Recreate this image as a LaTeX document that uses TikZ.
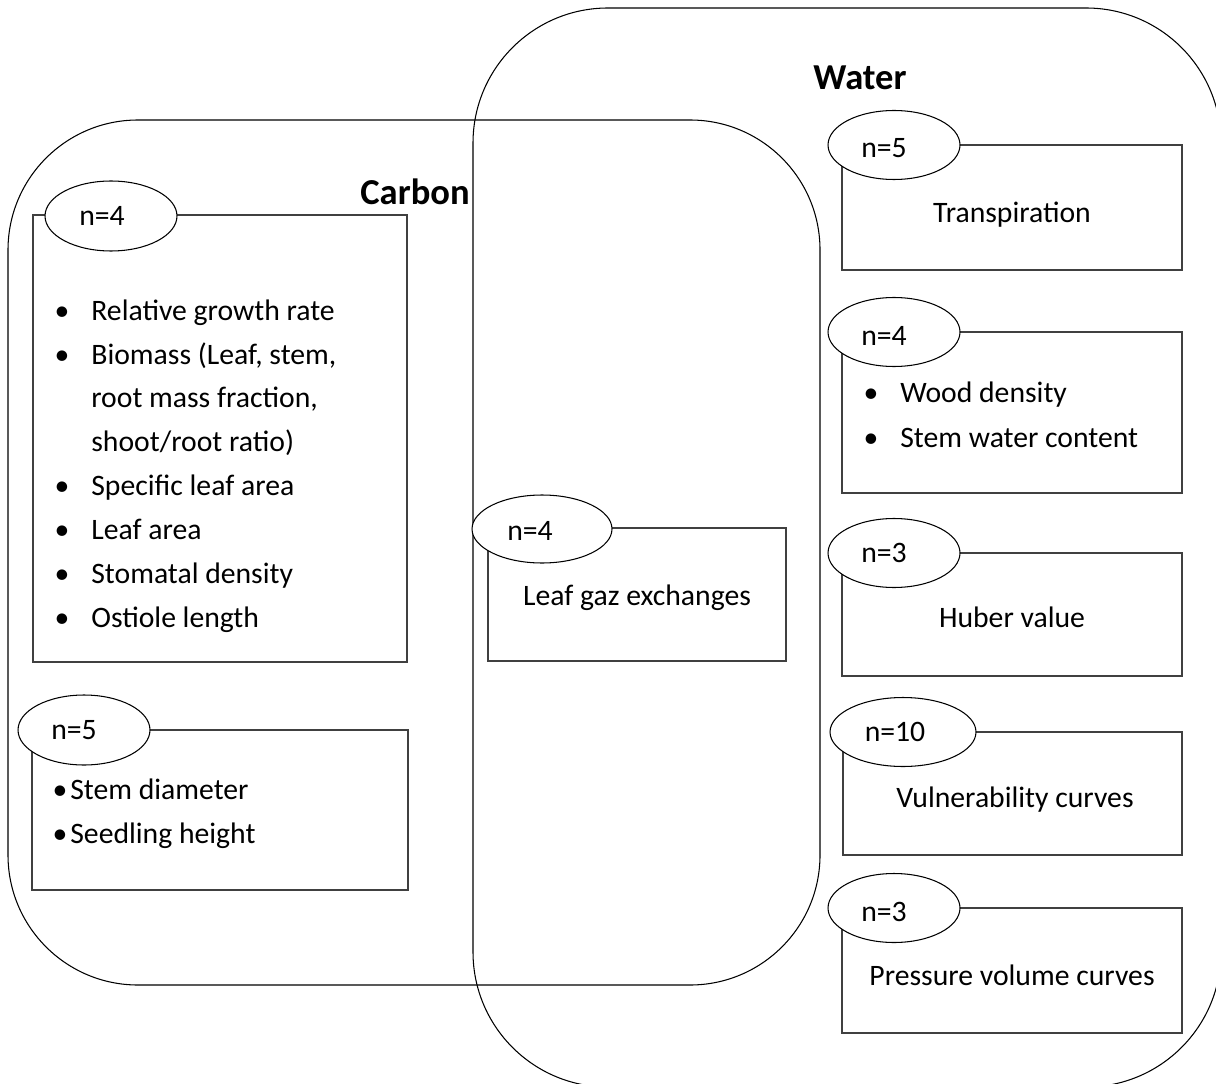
\documentclass[tikz,border=0pt]{standalone}
\usepackage{fontspec}
\setmainfont{Carlito}
\usetikzlibrary{shapes.geometric,fit}
\begin{document}
\begin{tikzpicture}[x=0.02cm,y=-0.02cm,
  container/.style={draw=black, line width=0.6pt, rounded corners=2.6cm, inner sep=0pt},
  itembox/.style={draw=black!75, line width=0.9pt, fill=white, inner sep=0pt},
  countoval/.style={draw=black, line width=0.6pt, fill=white, ellipse, inner sep=0pt, minimum width=2.64cm, minimum height=1.4cm},
  txt/.style={font=\fontsize{16.9}{20}\selectfont, inner sep=0pt, anchor=base},
  ltxt/.style={txt, anchor=base west},
  bul/.style={txt},
  title/.style={font=\fontsize{20.8}{24}\selectfont\bfseries, inner sep=0pt, anchor=base}]
\useasboundingbox (0,0) rectangle (1216,1084);
\begin{scope}
  \clip (0,0) rectangle (1216,1084);
  \node[container, fit={(8,120) (820,985)}] (carbon) {};
  \node[container, rounded corners=2.7cm, fit={(473,8) (1221,1087)}] (water) {};
\end{scope}
% titles
\node[title] (watert) at (860,90) {Water};
\node[title, anchor=base east] (carbont) at (470,205) {Carbon};
% boxes
\node[itembox, fit={(33,215) (407,662)}] (b1) {};
\node[itembox, fit={(32,730) (408,890)}] (b2) {};
\node[itembox, fit={(488,528) (786,661)}] (b3) {};
\node[itembox, fit={(842,145) (1182,270)}] (bt) {};
\node[itembox, fit={(842,332) (1182,493)}] (bw) {};
\node[itembox, fit={(842,553) (1182,676)}] (bh) {};
\node[itembox, fit={(843,732) (1182,855)}] (bv) {};
\node[itembox, fit={(842,908) (1182,1033)}] (bp) {};
% ovals
\node[countoval] (o1) at (111,216) {};
\node[countoval] (o2) at (84,730) {};
\node[countoval, minimum width=2.8cm, minimum height=1.36cm] (o3) at (542,529) {};
\node[countoval, minimum height=1.38cm] (ot) at (894,145) {};
\node[countoval, minimum height=1.38cm] (ow) at (894,332) {};
\node[countoval, minimum height=1.38cm] (oh) at (894,553) {};
\node[countoval, minimum width=2.92cm, minimum height=1.38cm] (ov) at (903,732) {};
\node[countoval, minimum height=1.38cm] (op) at (894,908) {};
% oval labels
\node[txt] (n1) at (102,226) {n=4};
\node[txt] (n2) at (74,739) {n=5};
\node[txt] (n3) at (530,540) {n=4};
\node[txt] (nt) at (884,158) {n=5};
\node[txt] (nw) at (884,345) {n=4};
\node[txt] (nh) at (884,562) {n=3};
\node[txt] (nv) at (895,741) {n=10};
\node[txt] (np) at (884,921) {n=3};
% box 1 list
\node[bul] (d1a) at (62,320) {•};
\node[ltxt] (i1a) at (91,320) {Relative growth rate};
\node[bul] (d1b) at (62,364) {•};
\node[ltxt] (i1b) at (91,364) {Biomass (Leaf, stem,};
\node[ltxt] (i1c) at (91,407) {root mass fraction,};
\node[ltxt] (i1d) at (91,451) {shoot/root ratio)};
\node[bul] (d1e) at (62,495) {•};
\node[ltxt] (i1e) at (91,495) {Specific leaf area};
\node[bul] (d1f) at (62,539) {•};
\node[ltxt] (i1f) at (91,539) {Leaf area};
\node[bul] (d1g) at (62,583) {•};
\node[ltxt] (i1g) at (91,583) {Stomatal density};
\node[bul] (d1h) at (62,627) {•};
\node[ltxt] (i1h) at (91,627) {Ostiole length};
% box 2 list
\node[bul] (d2a) at (60,799) {•};
\node[ltxt] (i2a) at (70,799) {Stem diameter};
\node[bul] (d2b) at (60,843) {•};
\node[ltxt] (i2b) at (70,843) {Seedling height};
% wood box list
\node[bul] (dwa) at (871,402) {•};
\node[ltxt] (iwa) at (900,402) {Wood density};
\node[bul] (dwb) at (871,447) {•};
\node[ltxt] (iwb) at (900,447) {Stem water content};
% single labels
\node[txt] (lg) at (637,605) {Leaf gaz exchanges};
\node[txt] (lt) at (1012,223) {Transpiration};
\node[txt] (lh) at (1012,627) {Huber value};
\node[txt] (lv) at (1015,807) {Vulnerability curves};
\node[txt] (lp) at (1012,985) {Pressure volume curves};
\end{tikzpicture}
\end{document}
